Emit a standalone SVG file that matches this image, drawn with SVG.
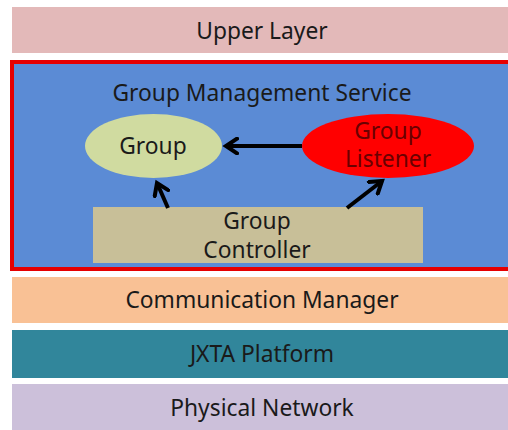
<svg xmlns="http://www.w3.org/2000/svg" width="508" height="430" viewBox="0 0 508 430">
<defs>
<style>
text{font-family:"Noto Sans","Open Sans","Liberation Sans",sans-serif;font-size:22.8px;text-anchor:middle;fill:#1a1a1a}
.conn{stroke:#000;stroke-width:4;fill:none;marker-end:url(#arr)}
</style>
<marker id="arr" viewBox="0 0 10 10" refX="7" refY="5" markerWidth="4.6" markerHeight="4.6" orient="auto" markerUnits="strokeWidth">
<path d="M1,1 L7,5 L1,9" fill="none" stroke="#000" stroke-width="2.2" stroke-linecap="round"/>
</marker>
</defs>
<rect width="508" height="430" fill="#fff"/>
<g id="upper"><rect x="12" y="7" width="496" height="46" fill="#e3b9b9"/><text x="262" y="39">Upper Layer</text></g>
<g id="gms"><rect x="12" y="62" width="510" height="207" fill="#5b8bd5" stroke="#e60000" stroke-width="4"/><text x="262" y="101" fill="#17284a">Group Management Service</text></g>
<g id="group"><ellipse cx="153.5" cy="146" rx="68.5" ry="32" fill="#d0dba0"/><text x="153" y="154">Group</text></g>
<g id="listener"><ellipse cx="388" cy="146" rx="86" ry="32" fill="#ff0000"/><text x="388" y="139" style="fill:#6a0000">Group</text><text x="388" y="167" style="fill:#6a0000">Listener</text></g>
<g id="controller"><rect x="93" y="207" width="330" height="56" fill="#c8bf98"/><text x="257" y="229">Group</text><text x="257" y="258">Controller</text></g>
<g id="comm"><rect x="12" y="277" width="496" height="46" fill="#f9c195"/><text x="262" y="308">Communication Manager</text></g>
<g id="jxta"><rect x="12" y="330" width="496" height="48" fill="#31869b"/><text x="262" y="362">JXTA Platform</text></g>
<g id="phys"><rect x="12" y="384" width="496" height="46" fill="#ccc0da"/><text x="262" y="416">Physical Network</text></g>
<g id="connectors">
<line class="conn" x1="302" y1="146" x2="226" y2="146"/>
<line class="conn" x1="168" y1="208" x2="157" y2="183"/>
<line class="conn" x1="347" y1="208" x2="382" y2="181"/>
</g>
</svg>
